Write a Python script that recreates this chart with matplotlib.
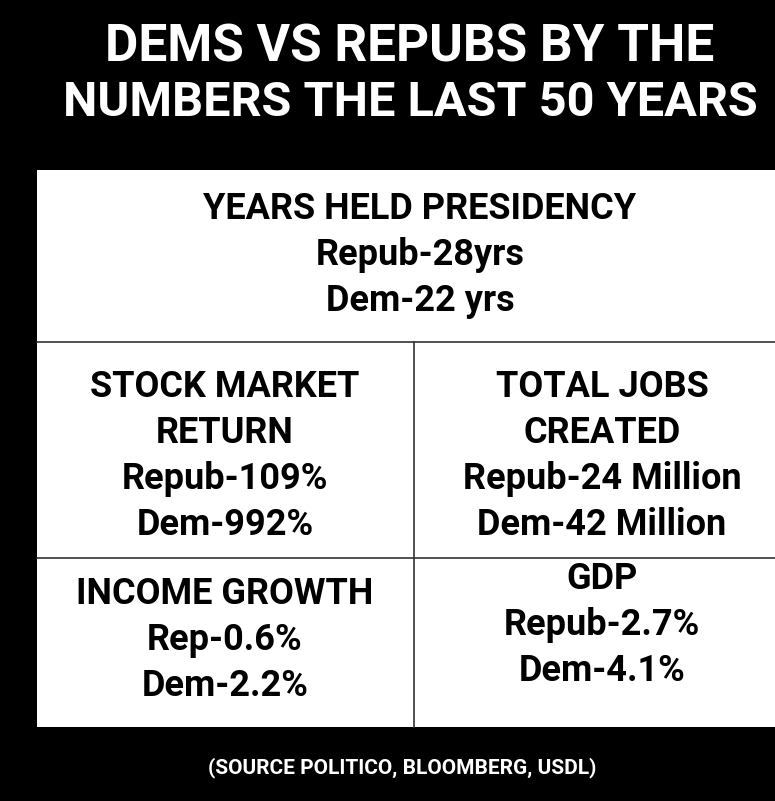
import matplotlib
matplotlib.use("Agg")
import matplotlib.pyplot as plt
from matplotlib.patches import Rectangle

title_lines = ["DEMS VS REPUBS BY THE", "NUMBERS THE LAST 50 YEARS"]
cell_headers = ["YEARS HELD PRESIDENCY", "STOCK MARKET\nRETURN", "TOTAL JOBS\nCREATED", "INCOME GROWTH", "GDP"]
repub_values = ["Repub-28yrs", "Repub-109%", "Repub-24 Million", "Rep-0.6%", "Repub-2.7%"]
dem_values = ["Dem-22 yrs", "Dem-992%", "Dem-42 Million", "Dem-2.2%", "Dem-4.1%"]
source = "(SOURCE POLITICO, BLOOMBERG, USDL)"

FAM = ["Roboto", "DejaVu Sans"]
fig = plt.figure(figsize=(7.75, 8.01), dpi=100, facecolor="black")
ax = fig.add_axes([0, 0, 1, 1])
ax.set_xlim(0, 775); ax.set_ylim(801, 0); ax.axis("off")
ax.set_facecolor("black")

ax.text(410, 48, title_lines[0], ha="center", va="center", color="white", fontsize=37, fontweight="bold", family=FAM)
ax.text(410, 103, title_lines[1], ha="center", va="center", color="white", fontsize=35, fontweight="bold", family=FAM)

ax.add_patch(Rectangle((37, 170), 760, 557, facecolor="white", edgecolor="none"))
ax.plot([37, 775], [342, 342], color="#333", lw=1.2)
ax.plot([37, 775], [558, 558], color="#333", lw=1.2)
ax.plot([414, 414], [342, 727], color="#333", lw=1.2)

centers = [(420, 255), (225, 456), (602, 456), (225, 640), (602, 625)]
fs = 26
for (cx, cy), h, r, d in zip(centers, cell_headers, repub_values, dem_values):
    lines = h.split("\n") + [r, d]
    n = len(lines)
    step = 46
    y0 = cy - step * (n - 1) / 2
    for i, ln in enumerate(lines):
        ax.text(cx, y0 + i * step, ln, ha="center", va="center", color="black",
                fontsize=fs, fontweight="bold", family=FAM)

ax.text(402, 768, source, ha="center", va="center", color="white", fontsize=15, fontweight="bold", family=FAM)
fig.savefig("out.png", dpi=100, facecolor="black")
